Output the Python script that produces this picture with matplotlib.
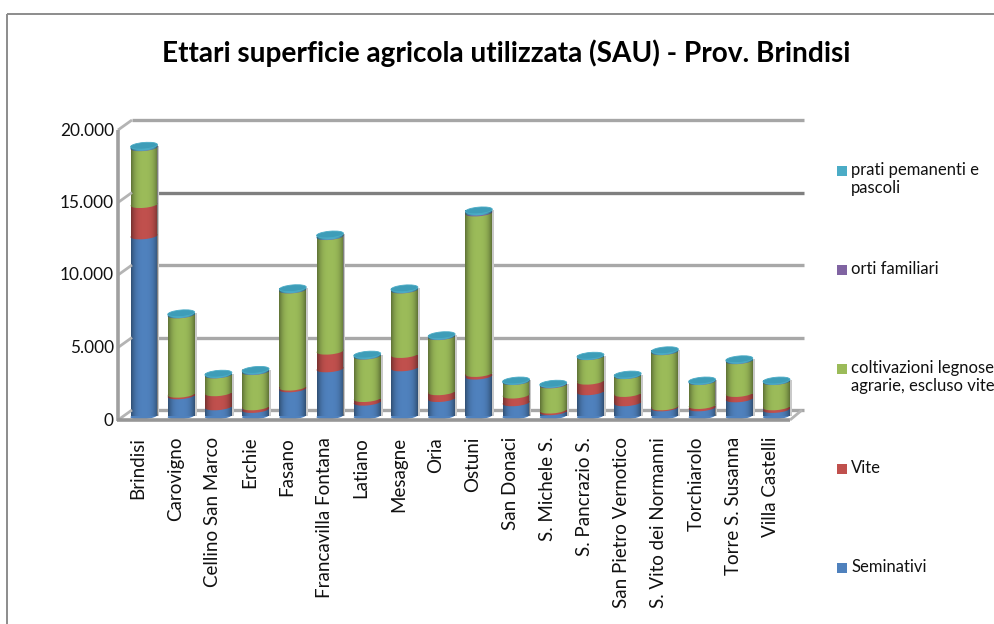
# Ettari SAU - Prov. Brindisi, fake 3D stacked cylinders like the Excel chart

import numpy as np
import matplotlib
matplotlib.use('Agg')
import matplotlib.pyplot as plt
from matplotlib.lines import Line2D
from matplotlib.patches import Ellipse, Rectangle
from matplotlib.transforms import Affine2D

comuni = ['Brindisi', 'Carovigno', 'Cellino San Marco', 'Erchie', 'Fasano',
          'Francavilla Fontana', 'Latiano', 'Mesagne', 'Oria', 'Ostuni',
          'San Donaci', 'S. Michele S.', 'S. Pancrazio S.',
          'San Pietro Vernotico', 'S. Vito dei Normanni', 'Torchiarolo',
          'Torre S. Susanna', 'Villa Castelli']

seminativi = [12420, 1390, 630, 450, 1870, 3250, 950, 3320, 1200,
              2750, 910, 290, 1670, 910, 560, 560, 1180, 450]
vite = [2160, 110, 970, 180, 120, 1220, 250, 920, 470,
        180, 530, 115, 730, 640, 70, 160, 370, 180]
legnose = [3920, 5470, 1230, 2430, 6700, 7900, 2930, 4450, 3800,
           11070, 930, 1735, 1690, 1230, 3800, 1650, 2260, 1740]
orti = [20, 15, 10, 20, 15, 20, 15, 15, 15,
        60, 10, 40, 10, 10, 15, 10, 15, 10]
prati = [120, 100, 80, 100, 110, 130, 90, 100, 90,
         120, 70, 50, 60, 70, 90, 70, 90, 70]

nomi_legenda = ['prati pemanenti e\npascoli', 'orti familiari',
                'coltivazioni legnose\nagrarie, escluso vite', 'Vite',
                'Seminativi']
colori_legenda = ['#4BACC6', '#8064A2', '#9BBB59', '#C0504D', '#4F81BD']
y_ticks = [0, 5000, 10000, 15000, 20000]
y_labels = ['0', '5.000', '10.000', '15.000', '20.000']

W, H = 994, 624
plt.rcParams['font.family'] = ['Lato', 'DejaVu Sans']

fig = plt.figure(figsize=(W / 100, H / 100), dpi=100)
fig.patch.set_facecolor('white')
# axes = middle plane of the 3D box
ax = fig.add_axes([125 / W, 1 - 416 / H, 671.6 / W, 290 / H])
ax.patch.set_visible(False)
ax.set_xlim(-0.51, 17.54)
ax.set_ylim(0, 20000)
for s in ax.spines.values():
    s.set_visible(False)


def fig_line(x0, y0, x1, y1, color='#a6a6a6', lw=2.2, z=1):
    # pixel coords, y from the top of the image
    fig.add_artist(Line2D([x0 / W, x1 / W], [1 - y0 / H, 1 - y1 / H], color=color,
                          lw=lw, zorder=z, solid_capstyle='butt'))


def tilted_ellipse(xi, v, **kw):
    # bar cross-section, drawn in pixels around the data point
    px = ax.transData.transform((xi, v))
    tr = Affine2D().rotate_deg(5).translate(px[0], px[1])
    ax.add_patch(Ellipse((0, 0), 27, 6.5, transform=tr, clip_on=False, **kw))


# outer chart frame (cut by the picture on right and bottom)
fig_line(7, 14, W, 14, color='#8c8c8c', lw=1.4)
fig_line(7, 14, 7, H, color='#8c8c8c', lw=1.4)

# back wall gridlines
back = Affine2D().translate(7, 6)
grid_col = ['#a6a6a6', '#a8a8a8', '#a8a8a8', '#7f7f7f', '#a6a6a6']
ax.hlines(y_ticks, 0, 1, transform=ax.get_yaxis_transform() + back,
          colors=grid_col, lw=2.4, zorder=1, clip_on=False)

# left wall and floor
for v in y_ticks:
    yp = 416 - v * 290 / 20000
    fig_line(118, yp + 4, 132, yp - 6, color='#b4b4b4', lw=2)
fig_line(118, 130, 118, 421, color='#a0a0a0', lw=2.6)
fig_line(117, 420, 790, 420, color='#969696', lw=2.6)
fig_line(790, 420, 802, 410, color='#b4b4b4', lw=2)

# bars
x = np.arange(len(comuni))
larg = 0.72
serie = [seminativi, vite, legnose, orti, prati]
colori = colori_legenda[::-1]
base = np.zeros(len(comuni))

shift = Affine2D().translate(2, 0)
tot = np.sum(serie, axis=0)
ax.bar(x, tot, larg, color='#c9c9c9', transform=ax.transData + shift, zorder=2)

for i, (vals, col) in enumerate(zip(serie, colori)):
    ax.bar(x, vals, larg, bottom=base, color=col, zorder=3 + i)
    for xi, b in zip(x, base):
        tilted_ellipse(xi, b, color=col, lw=0, zorder=3 + i)
    base = base + np.array(vals)

# cylinder shading + top cap
u = np.linspace(-1, 1, 40)
shade = np.zeros((1, 40, 4))
shade[0, :, 3] = 0.38 * np.abs(u) ** 3
for xi, t in zip(x, tot):
    ax.imshow(shade, extent=[xi - larg / 2, xi + larg / 2, 0, t], aspect='auto',
              zorder=9, interpolation='bilinear')
    tilted_ellipse(xi, t, facecolor='#3E9DB8', edgecolor='#4BACC6', lw=0.6, zorder=10)
ax.set_xlim(-0.51, 17.54)
ax.set_ylim(0, 20000)

# ticks
ax.set_yticks(y_ticks)
ax.set_yticklabels(y_labels, fontsize=12.4, color='#111111')
ax.tick_params(axis='y', length=0, pad=8)
ax.set_xticks(x)
ax.set_xticklabels(comuni, rotation=90, fontsize=13.5, color='#111111')
ax.tick_params(axis='x', length=0, pad=15)
for lab in ax.get_yticklabels():
    lab.set_transform(lab.get_transform() + Affine2D().translate(0, -3))
for lab in ax.get_xticklabels():
    lab.set_transform(lab.get_transform() + Affine2D().translate(-6, 0))

fig.text(506 / W, 1 - 53 / H, 'Ettari superficie agricola utilizzata (SAU) - Prov. Brindisi',
         ha='center', va='center', fontsize=20.2, fontweight='bold', color='black')

# legend
for i, (nome, col) in enumerate(zip(nomi_legenda, colori_legenda)):
    yp = 171 + 99.2 * i
    fig.add_artist(Rectangle((837 / W, 1 - (yp + 5) / H), 10 / W, 10 / H, facecolor=col,
                             lw=0, transform=fig.transFigure))
    fig.text(851 / W, 1 - (yp - 9) / H, nome, ha='left', va='top', fontsize=12,
             color='#111111', linespacing=1.15)

fig.savefig('out.png', dpi=100)
